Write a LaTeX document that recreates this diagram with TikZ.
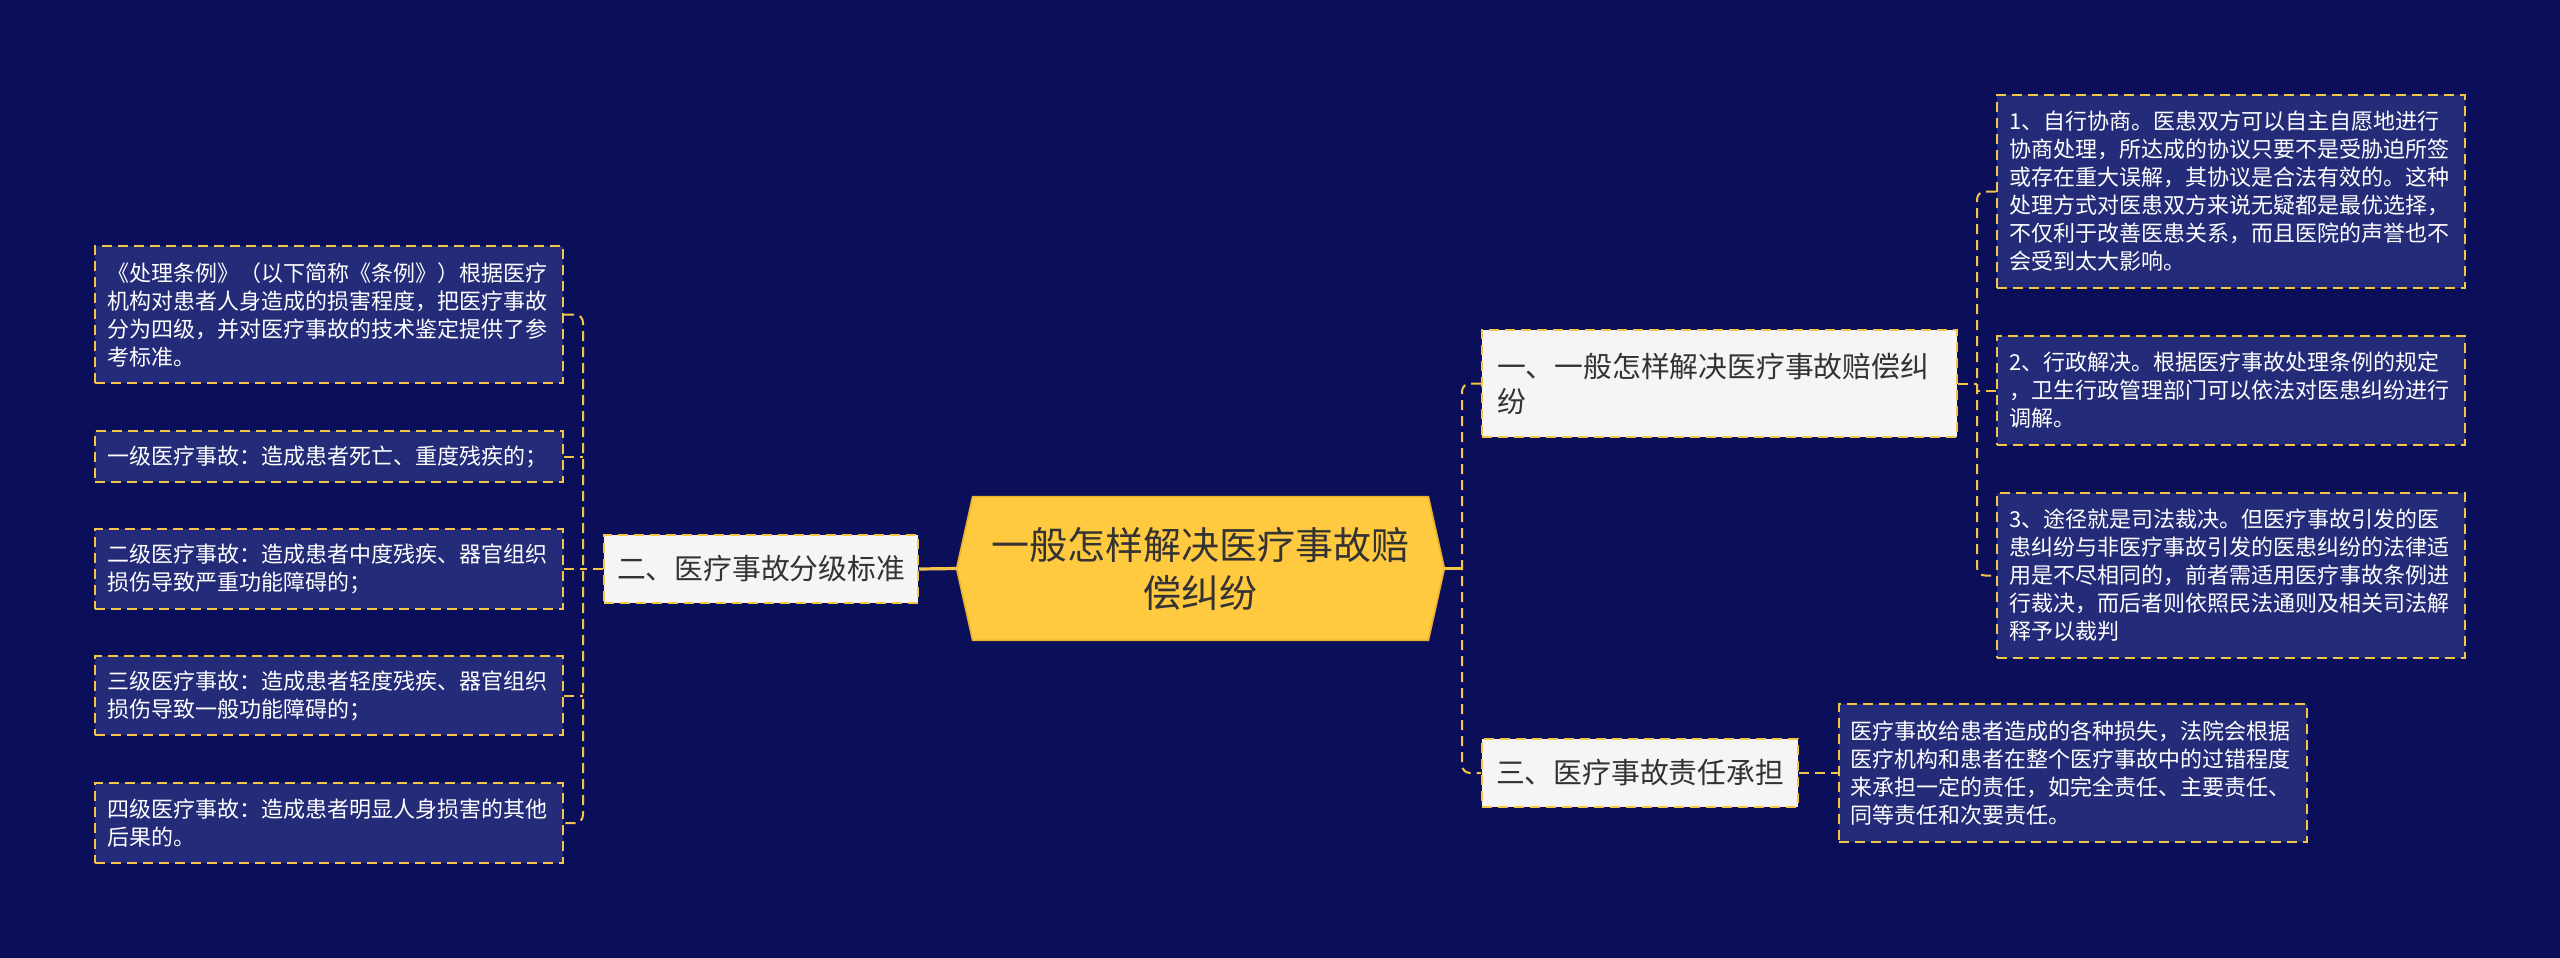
\documentclass[tikz,border=0pt]{standalone}
\usepackage{fontspec}
\setmainfont{Noto Sans CJK SC}
\usetikzlibrary{calc,backgrounds}
\definecolor{bg}{HTML}{0B0F5A}
\definecolor{leaffill}{HTML}{242B78}
\definecolor{gold}{HTML}{F5C548}
\definecolor{mainfill}{HTML}{FFC940}
\definecolor{mainedge}{HTML}{E8B030}
\definecolor{lvfill}{HTML}{F5F5F5}
\definecolor{darktext}{HTML}{333333}
\begin{document}
\begin{tikzpicture}[x=0.5pt,y=-0.5pt,
  leaf/.style={draw=gold, line width=1pt, dash pattern=on 5pt off 3pt, fill=leaffill, text=white,
    font=\fontsize{11pt}{14pt}\selectfont, text width=222pt, align=left, inner xsep=6pt, inner ysep=3pt, minimum width=234pt},
  lv/.style={draw=gold, line width=1pt, dash pattern=on 5pt off 3pt, fill=lvfill, text=darktext,
    font=\fontsize{14.4pt}{17.5pt}\selectfont, inner sep=0pt},
  conn/.style={draw=gold, line width=1pt, dash pattern=on 5pt off 3pt, rounded corners=4pt},
  solidconn/.style={draw=gold, line width=1.6pt}]
\begin{pgfonlayer}{background}
\fill[bg] (0,0) rectangle (2560,958);
\end{pgfonlayer}
\useasboundingbox (0,0) rectangle (2560,958);

% main node
\node[minimum width=243.5pt, minimum height=71.5pt, inner sep=0pt, text=darktext,
  font=\fontsize{19pt}{24pt}\selectfont, align=center] (main) at (1200.5,568.5)
  {一般怎样解决医疗事故赔\\偿纠纷};
\begin{pgfonlayer}{background}
\filldraw[fill=mainfill, draw=mainedge, line width=0.8pt]
  ($(main.north west)+(8pt,0)$) -- ($(main.north east)+(-8pt,0)$) -- (main.east)
  -- ($(main.south east)+(-8pt,0)$) -- ($(main.south west)+(8pt,0)$) -- (main.west) -- cycle;
\end{pgfonlayer}

% level 1
\node[lv, minimum width=157pt, minimum height=34pt] (B2) at (761,569) {二、医疗事故分级标准};
\node[lv, minimum width=237.5pt, minimum height=53.5pt, text width=222.5pt, align=left, inner xsep=7.5pt] (B1) at (1719.5,383.5)
  {一、一般怎样解决医疗事故赔偿纠\\纷};
\node[lv, minimum width=158pt, minimum height=34pt] (B3) at (1640,773) {三、医疗事故责任承担};

% left leaves
\node[leaf, minimum height=68.5pt] (L0) at (329,314.5)
  {《处理条例》（以下简称《条例》）根据医疗\\机构对患者人身造成的损害程度，把医疗事故\\分为四级，并对医疗事故的技术鉴定提供了参\\考标准。};
\node[leaf, minimum height=25.5pt] (L1) at (329,456.5)
  {一级医疗事故：造成患者死亡、重度残疾的；};
\node[leaf, minimum height=40pt] (L2) at (329,569)
  {二级医疗事故：造成患者中度残疾、器官组织\\损伤导致严重功能障碍的；};
\node[leaf, minimum height=39.5pt] (L3) at (329,695.5)
  {三级医疗事故：造成患者轻度残疾、器官组织\\损伤导致一般功能障碍的；};
\node[leaf, minimum height=40pt] (L4) at (329,823)
  {四级医疗事故：造成患者明显人身损害的其他\\后果的。};

% right leaves
\node[leaf, minimum height=96.5pt] (R1) at (2231,191.5)
  {1、自行协商。医患双方可以自主自愿地进行\\协商处理，所达成的协议只要不是受胁迫所签\\或存在重大误解，其协议是合法有效的。这种\\处理方式对医患双方来说无疑都是最优选择，\\不仅利于改善医患关系，而且医院的声誉也不\\会受到太大影响。};
\node[leaf, minimum height=54.5pt] (R2) at (2231,390.5)
  {2、行政解决。根据医疗事故处理条例的规定\\，卫生行政管理部门可以依法对医患纠纷进行\\调解。};
\node[leaf, minimum height=82.5pt] (R3) at (2231,575.5)
  {3、途径就是司法裁决。但医疗事故引发的医\\患纠纷与非医疗事故引发的医患纠纷的法律适\\用是不尽相同的，前者需适用医疗事故条例进\\行裁决，而后者则依照民法通则及相关司法解\\释予以裁判};
\node[leaf, minimum height=69pt, minimum width=233.5pt] (T3) at (2072.5,773)
  {医疗事故给患者造成的各种损失，法院会根据\\医疗机构和患者在整个医疗事故中的过错程度\\来承担一定的责任，如完全责任、主要责任、\\同等责任和次要责任。};

% connectors left
\coordinate (lt) at (583,569);
\draw[conn] (L0.east) -- (L0.east -| lt) -- (L4.east -| lt) -- (L4.east);
\draw[conn] (L1.east) -- (L1.east -| lt);
\draw[conn] (L2.east) -- (L2.east -| lt);
\draw[conn] (L3.east) -- (L3.east -| lt);
\draw[conn] (B2.west) -- (lt);
\draw[solidconn] (main.west) -- (B2.east);

% connectors right
\coordinate (rt) at (1462,568.5);
\draw[solidconn] (main.east) -- (rt);
\draw[conn] (B1.west) -- (B1.west -| rt) -- (B3.west -| rt) -- (B3.west);
\coordinate (st) at (1977,383.5);
\draw[conn] (B1.east) -- (st);
\draw[conn] (R1.west) -- (R1.west -| st) -- (R3.west -| st) -- (R3.west);
\draw[conn] (R2.west) -- (R2.west -| st);
\draw[conn] (B3.east) -- (T3.west);
\end{tikzpicture}
\end{document}
